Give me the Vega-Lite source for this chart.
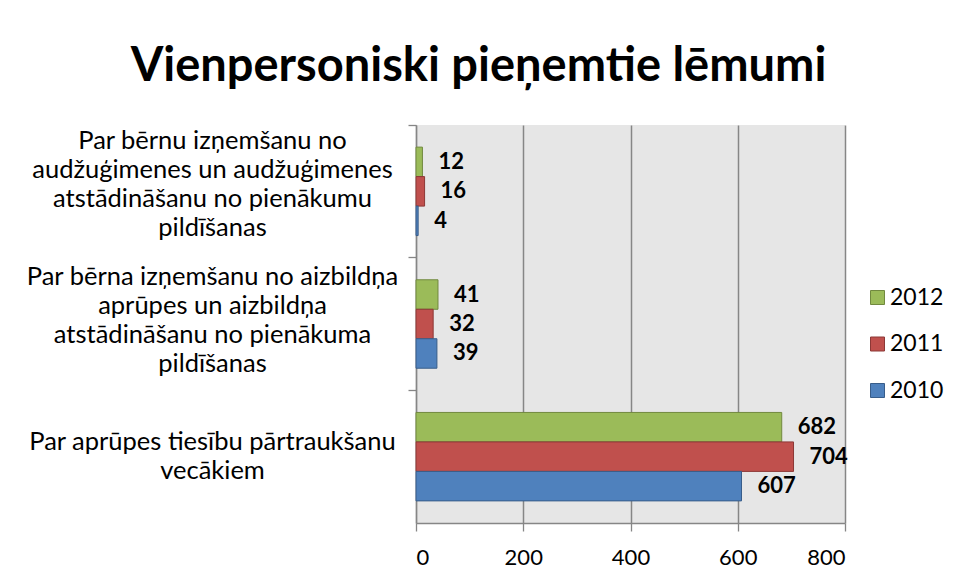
{
  "$schema": "https://vega.github.io/schema/vega-lite/v6.json",
  "autosize": {"type": "none"},
  "width": 429,
  "height": 398,
  "padding": {"left": 416, "top": 125, "right": 111, "bottom": 59},
  "background": "white",
  "title": {
    "text": "Vienpersoniski pieņemtie lēmumi",
    "font": "Lato",
    "fontSize": 47,
    "fontWeight": "bold",
    "color": "#000000",
    "anchor": "middle",
    "frame": "group",
    "baseline": "alphabetic",
    "dx": -152,
    "offset": -4
  },
  "config": {
    "view": {"fill": "#e6e6e6", "stroke": null},
    "font": "Lato"
  },
  "data": {
    "values": [
      {"cat": "Par bērnu izņemšanu no|audžuģimenes un audžuģimenes|atstādināšanu no pienākumu|pildīšanas", "year": "2012", "value": 12},
      {"cat": "Par bērnu izņemšanu no|audžuģimenes un audžuģimenes|atstādināšanu no pienākumu|pildīšanas", "year": "2011", "value": 16},
      {"cat": "Par bērnu izņemšanu no|audžuģimenes un audžuģimenes|atstādināšanu no pienākumu|pildīšanas", "year": "2010", "value": 4},
      {"cat": "Par bērna izņemšanu no aizbildņa|aprūpes un aizbildņa|atstādināšanu no pienākuma|pildīšanas", "year": "2012", "value": 41},
      {"cat": "Par bērna izņemšanu no aizbildņa|aprūpes un aizbildņa|atstādināšanu no pienākuma|pildīšanas", "year": "2011", "value": 32},
      {"cat": "Par bērna izņemšanu no aizbildņa|aprūpes un aizbildņa|atstādināšanu no pienākuma|pildīšanas", "year": "2010", "value": 39},
      {"cat": "Par aprūpes tiesību pārtraukšanu|vecākiem", "year": "2012", "value": 682},
      {"cat": "Par aprūpes tiesību pārtraukšanu|vecākiem", "year": "2011", "value": 704},
      {"cat": "Par aprūpes tiesību pārtraukšanu|vecākiem", "year": "2010", "value": 607}
    ]
  },
  "encoding": {
    "y": {
      "field": "cat",
      "type": "nominal",
      "sort": null,
      "scale": {"paddingInner": 0.3333, "paddingOuter": 0.1667},
      "axis": {
        "title": null,
        "bandPosition": -0.25,
        "labelOffset": {"condition": [{"test": "substring(datum.value, 0, 9) == 'Par bērna'", "value": -47}, {"test": "substring(datum.value, 0, 9) == 'Par bērnu'", "value": -50}], "value": -15},
        "labelExpr": "split(datum.label, '|')",
        "labelAlign": "center",
        "labelBaseline": "middle",
        "labelPadding": 196,
        "labelLimit": 0,
        "labelFont": "Lato",
        "labelFontSize": 25.5,
        "labelLineHeight": 29,
        "labelColor": "#000000",
        "domainColor": "#868686",
        "tickColor": "#868686",
        "tickSize": 8,
        "domainWidth": 1.3,
        "tickWidth": 1.3,
        "grid": false
      }
    },
    "yOffset": {
      "field": "year",
      "type": "nominal",
      "sort": ["2012", "2011", "2010"],
      "scale": {"paddingInner": 0, "paddingOuter": 0}
    },
    "x": {
      "field": "value",
      "type": "quantitative",
      "scale": {"domain": [0, 800], "nice": false},
      "axis": {
        "title": null,
        "values": [0, 200, 400, 600, 800],
        "labelFont": "Lato",
        "labelFontSize": 22,
        "labelColor": "#000000",
        "labelPadding": 16,
        "domainColor": "#868686",
        "tickColor": "#868686",
        "gridColor": "#868686",
        "gridWidth": 1.5,
        "domainWidth": 1.3,
        "tickWidth": 1.3,
        "tickSize": 8,
        "grid": true
      }
    }
  },
  "layer": [
    {
      "mark": {"type": "bar", "strokeWidth": 1},
      "encoding": {
        "color": {
          "field": "year",
          "type": "nominal",
          "scale": {"domain": ["2012", "2011", "2010"], "range": ["#9BBB59", "#C0504D", "#4F81BD"]},
          "legend": {
            "title": null,
            "orient": "none",
            "legendX": 450,
            "legendY": 161,
            "symbolType": "square",
            "symbolSize": 196,
            "symbolStrokeWidth": 1,
            "labelFont": "Lato",
            "labelFontSize": 23,
            "labelColor": "#000000",
            "labelOffset": 1,
            "rowPadding": 22.5
          }
        },
        "stroke": {
          "field": "year",
          "type": "nominal",
          "scale": {"domain": ["2012", "2011", "2010"], "range": ["#71893F", "#8C3836", "#385D8A"]}
        }
      }
    },
    {
      "mark": {"type": "text", "align": "left", "baseline": "middle", "dx": 16, "font": "Lato", "fontSize": 22, "fontWeight": "bold", "color": "#000000"},
      "encoding": {
        "text": {"field": "value", "type": "quantitative"}
      }
    }
  ]
}
